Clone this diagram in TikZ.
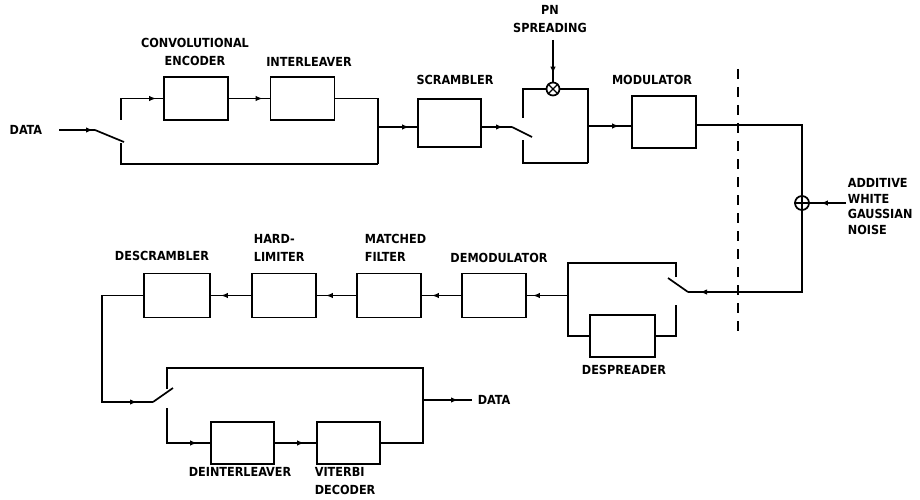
\documentclass[tikz,border=0pt]{standalone}
\usepackage{fontspec}
\setmainfont{DejaVu Sans Condensed}
\usetikzlibrary{arrows.meta,decorations.markings}

\begin{document}
\begin{tikzpicture}[x=1pt,y=-1pt,line width=1.7pt,
    block/.style={draw,rectangle,minimum width=64pt,minimum height=43pt,inner sep=0pt},
    lbl/.style={font=\bfseries\fontsize{12.5}{18}\selectfont,inner sep=0pt,align=center},
    flow/.style={postaction={decorate},decoration={markings,
        mark=at position -#1 with {\arrow{Latex[length=7pt,width=5.5pt]}}}},
    flow/.default=9pt,
    junction/.style={circle,draw,minimum size=14pt,inner sep=0pt}]
\useasboundingbox (0,0) rectangle (920,500);
\node[block] (enc) at (196,98.5) {};
\node[block] (intl) at (302.5,98.5) {};
\node[block,minimum width=63pt,minimum height=48pt] (scr) at (449.5,123) {};
\node[block,minimum height=52pt] (mod) at (664,122) {};
\node[junction,minimum size=13pt] (mix) at (553,89) {};
\draw[line width=1.3pt] (mix.north west) -- (mix.south east) (mix.north east) -- (mix.south west);
\node[junction] (add) at (802,203) {};
\draw[line width=1.3pt] (add.north) -- (add.south) (add.west) -- (add.east);
\node[block,minimum height=44pt] (demod) at (494,295.5) {};
\node[block,minimum height=44pt] (mf) at (389,295.5) {};
\node[block,minimum height=44pt] (hl) at (284,295.5) {};
\node[block,minimum width=66pt,minimum height=44pt] (dscr) at (177,295.5) {};
\node[block,minimum width=65pt,minimum height=42pt] (desp) at (622.5,336) {};
\node[block,minimum width=63pt,minimum height=42pt] (dint) at (242.5,443) {};
\node[block,minimum width=63pt,minimum height=42pt] (vit) at (348.5,443) {};
\node[lbl] at (195,52) {CONVOLUTIONAL\\ENCODER};
\node[lbl] at (309,62) {INTERLEAVER};
\node[lbl] at (455,80) {SCRAMBLER};
\node[lbl] at (550,19) {PN\\SPREADING};
\node[lbl] at (652,80) {MODULATOR};
\node[lbl,anchor=west,align=left,font=\bfseries\fontsize{12.5}{15.7}\selectfont] at (847,206.5) {ADDITIVE\\WHITE\\GAUSSIAN\\NOISE};
\node[lbl] at (162,256) {DESCRAMBLER};
\node[lbl,anchor=west,align=left] at (253,247.5) {HARD-\\LIMITER};
\node[lbl,anchor=west,align=left] at (364,247.5) {MATCHED\\FILTER};
\node[lbl] at (499,258) {DEMODULATOR};
\node[lbl] at (624,370) {DESPREADER};
\node[lbl] at (240,472) {DEINTERLEAVER};
\node[lbl,anchor=west,align=left] at (314,481) {VITERBI\\DECODER};
\node[lbl,anchor=east,inner xsep=16pt] (din) at (59,130) {DATA};
\node[lbl,anchor=west,inner xsep=5pt] (dout) at (472,400) {DATA};
\coordinate (sw1) at (95,130);
\coordinate (up1) at (121,120);
\coordinate (lo1) at (121,143);
\coordinate (j1) at (378,164);
\coordinate (j1o) at (378,127);
\coordinate (sw2) at (512,127);
\coordinate (up2) at (523,118);
\coordinate (lo2) at (523,140);
\coordinate (j2) at (588,163);
\coordinate (j2o) at (588,126);
\coordinate (pn) at (553,40);
\coordinate (tx) at (802,125);
\coordinate (nz) at (846,203);
\coordinate (sw3) at (688,292);
\coordinate (up3) at (676,277);
\coordinate (lo3) at (676,305);
\coordinate (j3) at (568,263);
\coordinate (j3o) at (568,295.5);
\coordinate (c4) at (102,402);
\coordinate (sw4) at (153,402);
\coordinate (up4) at (167,389);
\coordinate (lo4) at (167,408);
\coordinate (j4) at (423,368);
\coordinate (j4o) at (423,400);
\draw[flow=2pt] (din.east) -- (sw1);
\draw (sw1) -- (124,142);
\draw[flow=7pt] (up1) |- (enc.west);
\draw[flow=7pt] (enc.east) -- (intl.west);
\draw (intl.east) -| (j1);
\draw (lo1) |- (j1);
\draw[flow=8pt] (j1o) -- (j1o -| scr.west);
\draw[flow] (scr.east |- sw2) -- (sw2);
\draw (sw2) -- (532,137);
\draw (up2) |- (mix.west);
\draw (mix.east) -| (j2);
\draw (lo2) |- (j2);
\draw[flow=8pt] (pn) -- (mix.north);
\draw[flow=12pt] (j2o) -- (j2o -| mod.west);
\draw (mod.east |- tx) -| (add.north);
\draw[flow=11pt] (nz) -- (add.east);
\draw[flow=12pt] (add.south) |- (sw3);
\draw (sw3) -- (668,278);
\draw (up3) |- (j3) |- (desp.west);
\draw (lo3) |- (desp.east);
\draw[flow=6pt] (j3o) -- (j3o -| demod.east);
\draw[flow=10pt] (demod.west) -- (mf.east);
\draw[flow] (mf.west) -- (hl.east);
\draw[flow=10pt] (hl.west) -- (dscr.east);
\draw[flow=16pt] (dscr.west) -| (c4) -- (sw4);
\draw (sw4) -- (173,388);
\draw (up4) |- (j4) |- (vit.east);
\draw[flow=13pt] (lo4) |- (dint.west);
\draw[flow=12pt] (dint.east) -- (vit.west);
\draw[flow=14pt] (j4o) -- (dout.west);
\draw[dash pattern=on 10pt off 8pt] (738,69) -- (738,334);
\end{tikzpicture}
\end{document}
